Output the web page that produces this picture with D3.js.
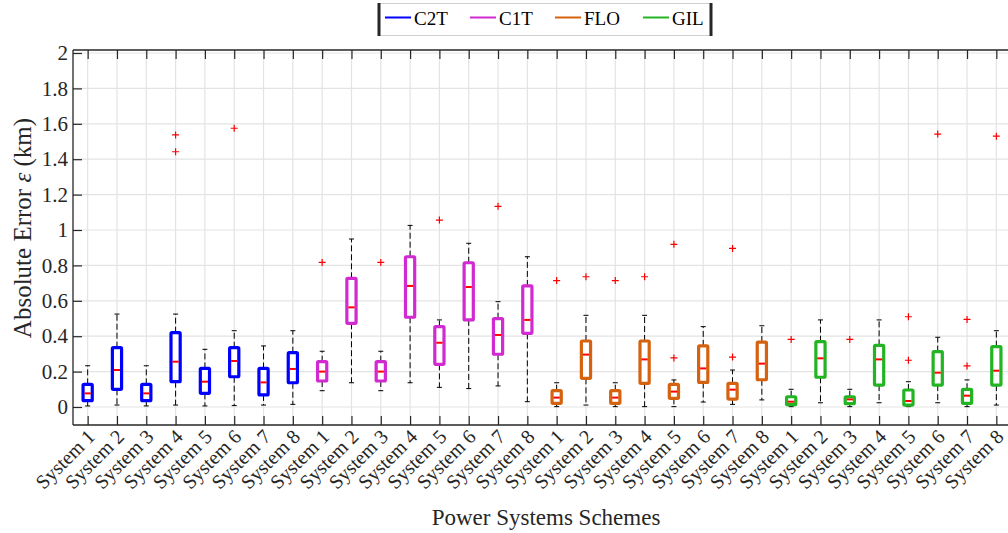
<!DOCTYPE html>
<html>
<head>
<meta charset="utf-8">
<script src="https://cdn.jsdelivr.net/npm/d3@7"></script>
<style>
  body { margin: 0; background: #fff; }
  svg { display: block; }
  svg text { font-family: "Liberation Serif", "Times New Roman", serif; }
</style>
</head>
<body>
<div id="chart"></div>
<script>
const systems = ['System 1', 'System 2', 'System 3', 'System 4', 'System 5', 'System 6', 'System 7', 'System 8'];
const schemes = ['C2T', 'C1T', 'FLO', 'GIL'];
const yTicks = [0, 0.2, 0.4, 0.6, 0.8, 1, 1.2, 1.4, 1.6, 1.8, 2];

// [lower whisker, q1, median, q3, upper whisker] per system
const c2tStats = [
  [0.006, 0.036, 0.077, 0.128, 0.233],
  [0.011, 0.100, 0.209, 0.335, 0.525],
  [0.006, 0.036, 0.077, 0.128, 0.233],
  [0.011, 0.143, 0.256, 0.420, 0.525],
  [0.006, 0.077, 0.143, 0.218, 0.326],
  [0.008, 0.171, 0.260, 0.335, 0.431],
  [0.011, 0.068, 0.139, 0.218, 0.345],
  [0.015, 0.137, 0.215, 0.307, 0.431]
];
const c1tStats = [
  [0.092, 0.147, 0.200, 0.256, 0.315],
  [0.137, 0.473, 0.563, 0.727, 0.949],
  [0.092, 0.147, 0.200, 0.256, 0.315],
  [0.137, 0.507, 0.684, 0.849, 1.026],
  [0.111, 0.241, 0.363, 0.454, 0.492],
  [0.104, 0.492, 0.678, 0.815, 0.925],
  [0.119, 0.298, 0.407, 0.499, 0.595],
  [0.030, 0.416, 0.492, 0.684, 0.849]
];
const floStats = [
  [0.002, 0.021, 0.053, 0.092, 0.137],
  [0.011, 0.162, 0.296, 0.373, 0.518],
  [0.002, 0.021, 0.053, 0.092, 0.137],
  [0.002, 0.134, 0.269, 0.373, 0.518],
  [0.002, 0.049, 0.087, 0.128, 0.153],
  [0.028, 0.139, 0.218, 0.345, 0.454],
  [0.015, 0.045, 0.098, 0.134, 0.209],
  [0.040, 0.154, 0.245, 0.367, 0.459]
];
const gilStats = [
  [0.002, 0.013, 0.030, 0.058, 0.100],
  [0.024, 0.168, 0.275, 0.369, 0.492],
  [0.002, 0.019, 0.043, 0.058, 0.100],
  [0.024, 0.124, 0.269, 0.348, 0.492],
  [0.002, 0.011, 0.034, 0.096, 0.143],
  [0.024, 0.124, 0.194, 0.313, 0.394],
  [0.002, 0.021, 0.064, 0.100, 0.153],
  [0.011, 0.124, 0.205, 0.341, 0.431]
];

// outliers per system
const c2tOutliers = [[], [], [], [1.537, 1.442], [], [1.575], [], []];
const c1tOutliers = [[0.817], [], [0.817], [], [1.056], [], [1.134], []];
const floOutliers = [[0.714], [0.736], [0.714], [0.736], [0.919, 0.277], [], [0.896, 0.282], []];
const gilOutliers = [[0.382], [], [0.382], [], [0.510, 0.264], [1.542], [0.495, 0.232], [1.530]];

const schemeColors = ['#0000ff', '#d02ad0', '#d5620f', '#22b422'];

const allStats = [c2tStats, c1tStats, floStats, gilStats];
const allOutliers = [c2tOutliers, c1tOutliers, floOutliers, gilOutliers];

const boxes = [];
allStats.forEach((stats, s) => {
  stats.forEach((v, i) => {
    boxes.push({
      pos: s * systems.length + i + 1,
      label: systems[i],
      color: schemeColors[s],
      lo: v[0], q1: v[1], med: v[2], q3: v[3], hi: v[4],
      outliers: allOutliers[s][i]
    });
  });
});

const W = 1008, H = 533;
const margin = { top: 50, left: 73 };
const plotW = 938, plotH = 375;

const svg = d3.select('#chart').append('svg')
  .attr('width', W)
  .attr('height', H);

const g = svg.append('g')
  .attr('transform', `translate(${margin.left},${margin.top})`);

const x = d3.scaleLinear().domain([0.5, boxes.length + 0.5]).range([0, plotW]);
const y = d3.scaleLinear().domain([-0.1017, 2.017]).range([plotH, 0]);

// grid
g.append('g').selectAll('line')
  .data(yTicks)
  .enter().append('line')
  .attr('x1', 0).attr('x2', plotW)
  .attr('y1', d => y(d)).attr('y2', d => y(d))
  .attr('stroke', '#e3e3e3').attr('stroke-width', 1.2);

g.append('g').selectAll('line')
  .data(boxes)
  .enter().append('line')
  .attr('x1', d => x(d.pos)).attr('x2', d => x(d.pos))
  .attr('y1', 0).attr('y2', plotH)
  .attr('stroke', '#e3e3e3').attr('stroke-width', 1.2);

// axes with inward ticks
const axisColor = '#262626';
const tickLen = 9;

const yAxis = g.append('g')
  .call(d3.axisLeft(y).tickValues(yTicks).tickSize(-tickLen).tickPadding(5)
    .tickFormat(d => d3.format('')(d)));
yAxis.attr('font-family', null);
yAxis.selectAll('text').style('font-size', '21px').style('fill', '#262626');

const xAxis = g.append('g')
  .attr('transform', `translate(0,${plotH})`)
  .call(d3.axisBottom(x).tickValues(boxes.map(d => d.pos)).tickSize(-tickLen)
    .tickFormat((d, i) => boxes[i].label));
xAxis.attr('font-family', null);
xAxis.selectAll('text')
  .style('font-size', '20px')
  .style('fill', '#262626')
  .attr('text-anchor', 'end')
  .attr('y', 0)
  .attr('dy', '0.35em')
  .attr('transform', 'translate(3,8) rotate(-45)');

g.append('g')
  .call(d3.axisTop(x).tickValues(boxes.map(d => d.pos)).tickSize(-tickLen).tickFormat(''));

g.selectAll('.domain').remove();
g.selectAll('.tick line').attr('stroke', axisColor).attr('stroke-width', 1.2);

g.append('line').attr('x1', 0).attr('x2', 0).attr('y1', 0).attr('y2', plotH)
  .attr('stroke', axisColor).attr('stroke-width', 1.3);
g.append('line').attr('x1', 0).attr('x2', plotW).attr('y1', plotH).attr('y2', plotH)
  .attr('stroke', axisColor).attr('stroke-width', 1.3);
g.append('line').attr('x1', 0).attr('x2', plotW).attr('y1', 0).attr('y2', 0)
  .attr('stroke', axisColor).attr('stroke-width', 1.3);

// boxes
const boxW = 9.2;
const capW = 5;

const bx = g.append('g').selectAll('g')
  .data(boxes)
  .enter().append('g');

bx.append('line')
  .attr('x1', d => x(d.pos)).attr('x2', d => x(d.pos))
  .attr('y1', d => y(d.q3)).attr('y2', d => y(d.hi))
  .attr('stroke', '#000').attr('stroke-width', 1)
  .attr('stroke-dasharray', '6,3');

bx.append('line')
  .attr('x1', d => x(d.pos)).attr('x2', d => x(d.pos))
  .attr('y1', d => y(d.q1)).attr('y2', d => y(d.lo))
  .attr('stroke', '#000').attr('stroke-width', 1)
  .attr('stroke-dasharray', '6,3');

bx.append('line')
  .attr('x1', d => x(d.pos) - capW / 2).attr('x2', d => x(d.pos) + capW / 2)
  .attr('y1', d => y(d.hi)).attr('y2', d => y(d.hi))
  .attr('stroke', '#000').attr('stroke-width', 1);

bx.append('line')
  .attr('x1', d => x(d.pos) - capW / 2).attr('x2', d => x(d.pos) + capW / 2)
  .attr('y1', d => y(d.lo)).attr('y2', d => y(d.lo))
  .attr('stroke', '#000').attr('stroke-width', 1);

bx.append('rect')
  .attr('x', d => x(d.pos) - boxW / 2)
  .attr('width', boxW)
  .attr('y', d => y(d.q3))
  .attr('height', d => y(d.q1) - y(d.q3))
  .attr('fill', '#fff')
  .attr('stroke', d => d.color)
  .attr('stroke-width', 3.2)
  .attr('rx', 1);

bx.append('line')
  .attr('x1', d => x(d.pos) - boxW / 2 + 1.5).attr('x2', d => x(d.pos) + boxW / 2 - 1.5)
  .attr('y1', d => y(d.med)).attr('y2', d => y(d.med))
  .attr('stroke', '#ff0000').attr('stroke-width', 2);

// outliers
const outs = boxes.flatMap(d => d.outliers.map(v => ({ pos: d.pos, v })));
g.append('g').selectAll('path')
  .data(outs)
  .enter().append('path')
  .attr('d', d => {
    const cx = x(d.pos), cy = y(d.v), r = 3.5;
    return `M${cx - r},${cy}H${cx + r}M${cx},${cy - r}V${cy + r}`;
  })
  .attr('stroke', '#ff0000').attr('stroke-width', 1.2).attr('fill', 'none');

// axis titles
svg.append('text')
  .attr('x', margin.left + x(16.5) + 4)
  .attr('y', 525)
  .attr('text-anchor', 'middle')
  .style('font-size', '23px')
  .style('fill', '#262626')
  .text('Power Systems Schemes');

const yTitle = svg.append('text')
  .attr('transform', `translate(31,${228}) rotate(-90)`)
  .attr('text-anchor', 'middle')
  .style('font-size', '25px')
  .style('fill', '#262626');
yTitle.append('tspan').text('Absolute Error ');
yTitle.append('tspan').style('font-style', 'italic').text('ε');
yTitle.append('tspan').text(' (km)');

// legend
const legend = svg.append('g');
legend.append('rect')
  .attr('x', 378.5).attr('y', 3.5).attr('width', 333).attr('height', 32)
  .attr('fill', '#fff').attr('stroke', '#cfcfcf').attr('stroke-width', 1);
legend.append('line').attr('x1', 379).attr('x2', 379).attr('y1', 3).attr('y2', 36)
  .attr('stroke', '#262626').attr('stroke-width', 3);
legend.append('line').attr('x1', 711).attr('x2', 711).attr('y1', 3).attr('y2', 36)
  .attr('stroke', '#262626').attr('stroke-width', 3);

const legendX = [385, 470, 555, 643];
schemes.forEach((name, i) => {
  legend.append('line')
    .attr('x1', legendX[i]).attr('x2', legendX[i] + 26)
    .attr('y1', 17.5).attr('y2', 17.5)
    .attr('stroke', schemeColors[i]).attr('stroke-width', 2);
  legend.append('text')
    .attr('x', legendX[i] + 29).attr('y', 24.5)
    .style('font-size', '19px')
    .style('fill', '#000')
    .text(name);
});
</script>
</body>
</html>
